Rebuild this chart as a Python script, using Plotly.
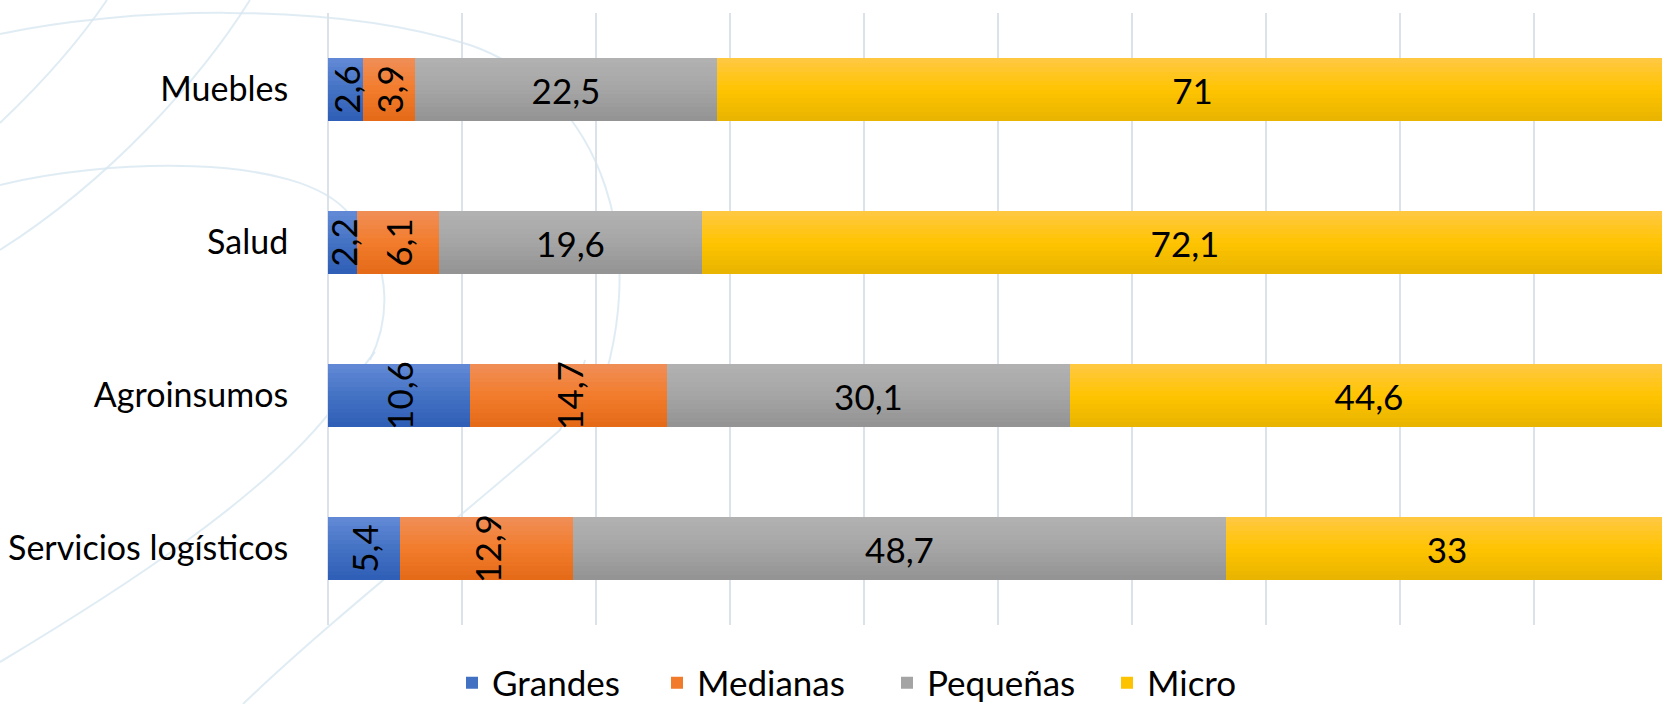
import plotly.graph_objects as go

# ---- data ----
categories = ["Muebles", "Salud", "Agroinsumos", "Servicios logísticos"]
series_names = ["Grandes", "Medianas", "Pequeñas", "Micro"]
grandes = [2.6, 2.2, 10.6, 5.4]
medianas = [3.9, 6.1, 14.7, 12.9]
pequenas = [22.5, 19.6, 30.1, 48.7]
micro = [71, 72.1, 44.6, 33]

series_values = [grandes, medianas, pequenas, micro]
# gradient stops (top, middle, bottom) per series
grad = [
    ((0x62, 0x8A, 0xD6), (0x44, 0x72, 0xC4), (0x2E, 0x5E, 0xB6)),
    ((0xF0, 0x8E, 0x58), (0xF2, 0x7C, 0x2C), (0xE4, 0x6A, 0x18)),
    ((0xB2, 0xB2, 0xB2), (0xA5, 0xA5, 0xA5), (0x93, 0x93, 0x93)),
    ((0xFF, 0xC8, 0x44), (0xFF, 0xC4, 0x00), (0xE8, 0xB4, 0x00)),
]
label_angles = [-90, -90, 0, 0]

FONT = "Lato"
BAR_W = 0.41
N_SLICES = 14

W, H = 1662, 704
L, T, B = 328, 13, 79
pw, ph = W - L, H - T - B
PX_PER_UNIT = 13.4


def lerp(c1, c2, t):
    return "rgb(%d,%d,%d)" % tuple(round(a + (b - a) * t) for a, b in zip(c1, c2))


def grad_color(stops, t):
    top, mid, bot = stops
    if t <= 0.5:
        return lerp(top, mid, t / 0.5)
    return lerp(mid, bot, (t - 0.5) / 0.5)


fig = go.Figure()

# cumulative bases
bases = []
running = [0.0] * len(categories)
for vals in series_values:
    bases.append(list(running))
    running = [r + v for r, v in zip(running, vals)]

legend_ids = ["legend", "legend2", "legend3", "legend4"]

# gradient bars: overlapping slices, each running from its top to the bar bottom
for s, (name, vals) in enumerate(zip(series_names, series_values)):
    for i in range(N_SLICES):
        t = (i + 0.5) / N_SLICES
        off = -BAR_W / 2 + i * BAR_W / N_SLICES
        fig.add_trace(go.Bar(
            y=categories, x=vals, base=bases[s], orientation="h",
            width=BAR_W - i * BAR_W / N_SLICES, offset=off,
            marker=dict(color=grad_color(grad[s], t), line=dict(width=0)),
            name=name, legendgroup=name, legend=legend_ids[s],
            showlegend=(i == N_SLICES // 2),
            hoverinfo="skip",
        ))

# labels
for s, vals in enumerate(series_values):
    texts = [("%g" % v).replace(".", ",") for v in vals]
    fig.add_trace(go.Bar(
        y=categories, x=vals, base=bases[s], orientation="h",
        width=BAR_W, offset=-BAR_W / 2,
        marker=dict(color="rgba(0,0,0,0)", line=dict(width=0)),
        text=texts, textposition="inside", insidetextanchor="middle",
        textangle=label_angles[s], constraintext="none",
        textfont=dict(family=FONT, size=35, color="black"),
        showlegend=False, hoverinfo="skip",
    ))

# faint decorative swooshes in the background (pixel coords -> paper)
swoosh = dict(color="rgba(214,230,240,0.75)", width=2)
paths = [
    "M 0,34 C 120,8 330,0 470,45 C 600,90 660,250 590,420",
    "M 0,185 C 100,160 300,150 350,215 C 400,270 385,330 370,360",
    "M 107,0 C 80,40 40,85 0,123",
    "M 250,0 C 200,80 110,180 0,250",
    "M 0,662 C 120,590 260,500 330,412 C 350,385 360,370 375,352",
    "M 243,704 C 330,620 470,510 560,430 C 570,410 578,385 585,360",
]


def to_paper(path):
    out = []
    toks = path.replace(",", " ").split()
    i = 0
    while i < len(toks):
        tk = toks[i]
        if tk.isalpha():
            out.append(tk)
            i += 1
        else:
            px, py = float(toks[i]), float(toks[i + 1])
            out.append("%.4f,%.4f" % ((px - L) / pw, (H - B - py) / ph))
            i += 2
    return " ".join(out)


# legend entries placed individually (marker left edges in px)
legend_marker_px = [466, 671, 901, 1121]
legend_y_px = 683
legend_layout = {}
for lid, mx in zip(legend_ids, legend_marker_px):
    legend_layout[lid] = dict(
        orientation="h", x=(mx - 14 - L) / pw, xanchor="left",
        y=(H - B - legend_y_px) / ph, yanchor="middle",
        font=dict(family=FONT, size=35, color="black"),
        bgcolor="rgba(0,0,0,0)",
    )

fig.update_layout(
    width=W, height=H,
    barmode="overlay",
    bargap=0,
    paper_bgcolor="white", plot_bgcolor="rgba(0,0,0,0)",
    margin=dict(l=L, r=0, t=T, b=B, autoexpand=False),
    font=dict(family=FONT, size=35, color="black"),
    xaxis=dict(range=[0, pw / PX_PER_UNIT], showticklabels=False,
               showgrid=True, gridcolor="#DCE2EA", gridwidth=1.5,
               dtick=10, tick0=0, zeroline=True, zerolinecolor="#DCE2EA",
               zerolinewidth=1.5, showline=False, automargin=False),
    yaxis=dict(categoryorder="array", categoryarray=categories,
               autorange="reversed", showgrid=False, zeroline=False,
               ticks="outside", ticklen=32, tickcolor="rgba(0,0,0,0)",
               automargin=False,
               tickfont=dict(family=FONT, size=34, color="black")),
    showlegend=True,
    shapes=[dict(type="path", path=to_paper(p), xref="paper", yref="paper",
                 layer="below", line=swoosh) for p in paths],
    **legend_layout,
)

fig.write_html(
    "out.html",
    config={"displayModeBar": False},
    post_script="document.body.style.margin='0';document.body.style.overflow='hidden';",
)
